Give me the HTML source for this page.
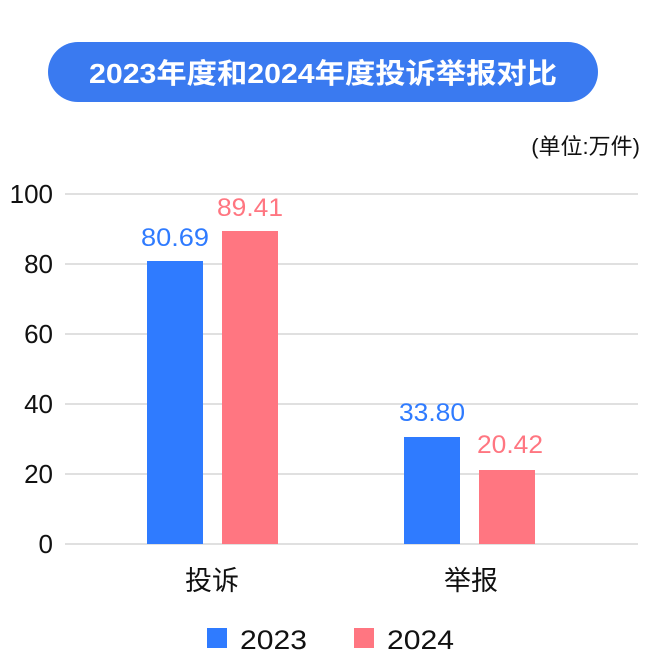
<!DOCTYPE html>
<html><head><meta charset="utf-8"><style>
body{margin:0;width:658px;height:662px;background:#fff;overflow:hidden;font-family:"Liberation Sans","Noto Sans CJK SC",sans-serif;}
</style></head><body>
<svg width="658" height="662" xmlns="http://www.w3.org/2000/svg" font-family="Liberation Sans, Noto Sans CJK SC, sans-serif">
<rect x="48" y="42" width="550" height="60" rx="30" fill="#3a7af0"/>
<text x="323" y="83" font-size="28" font-weight="bold" fill="#fff" text-anchor="middle" textLength="468" lengthAdjust="spacingAndGlyphs">2023年度和2024年度投诉举报对比</text>
<text x="640" y="154" font-size="22" fill="#111" text-anchor="end">(单位:万件)</text>
<g stroke="#d6d6d6" stroke-width="1.5">
<line x1="65" y1="194" x2="638" y2="194"/><line x1="65" y1="264" x2="638" y2="264"/>
<line x1="65" y1="334" x2="638" y2="334"/><line x1="65" y1="404" x2="638" y2="404"/>
<line x1="65" y1="474" x2="638" y2="474"/><line x1="65" y1="544" x2="638" y2="544"/>
</g>
<g font-size="26" fill="#111" text-anchor="end">
<text x="53" y="203">100</text><text x="53" y="273">80</text><text x="53" y="343">60</text>
<text x="53" y="413">40</text><text x="53" y="483">20</text><text x="53" y="553">0</text>
</g>
<rect x="147" y="261" width="56" height="283" fill="#2f7bff"/>
<rect x="222" y="231" width="56" height="313" fill="#ff7681"/>
<rect x="404" y="437" width="56" height="107" fill="#2f7bff"/>
<rect x="479" y="470" width="56" height="74" fill="#ff7681"/>
<g font-size="25" text-anchor="middle">
<text x="175" y="246" fill="#2f7bff" textLength="68" lengthAdjust="spacingAndGlyphs">80.69</text>
<text x="250" y="216" fill="#ff7681" textLength="66" lengthAdjust="spacingAndGlyphs">89.41</text>
<text x="432" y="421" fill="#2f7bff" textLength="66" lengthAdjust="spacingAndGlyphs">33.80</text>
<text x="510" y="453" fill="#ff7681" textLength="66" lengthAdjust="spacingAndGlyphs">20.42</text>
</g>
<g font-size="27" fill="#111" text-anchor="middle">
<text x="212" y="590">投诉</text><text x="471" y="590">举报</text>
</g>
<rect x="207" y="628" width="20" height="20" fill="#2f7bff"/>
<text x="240" y="649" font-size="27" fill="#111" textLength="67" lengthAdjust="spacingAndGlyphs">2023</text>
<rect x="354" y="628" width="20" height="20" fill="#ff7681"/>
<text x="387" y="649" font-size="27" fill="#111" textLength="67" lengthAdjust="spacingAndGlyphs">2024</text>
</svg>
</body></html>
